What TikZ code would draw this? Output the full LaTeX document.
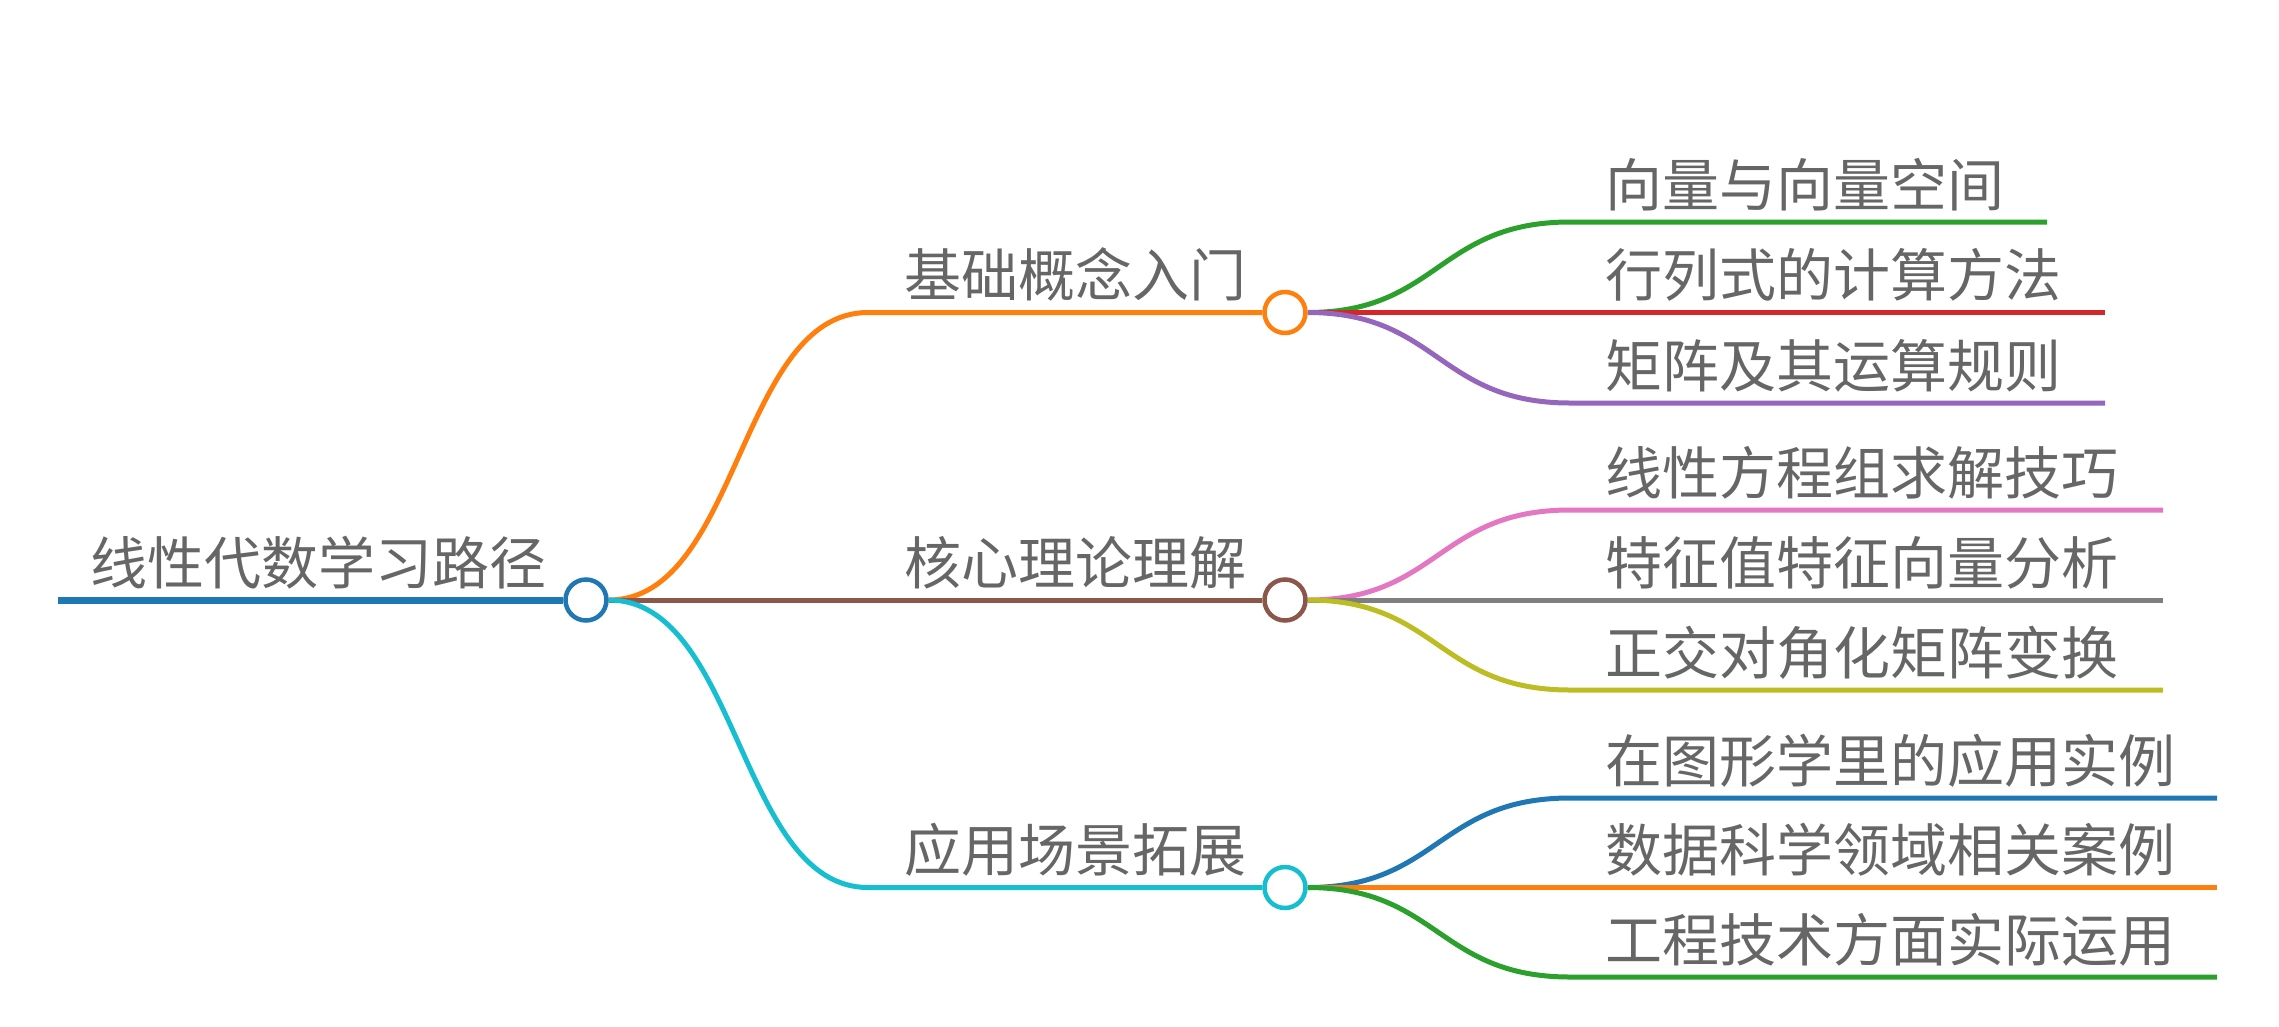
\documentclass[tikz,border=0pt]{standalone}
\usepackage{fontspec}
\newfontfamily\cjk{Noto Sans CJK SC}
\usetikzlibrary{backgrounds}

\definecolor{cblue}{HTML}{1F77B4}
\definecolor{corange}{HTML}{FF7F0E}
\definecolor{cgreen}{HTML}{2CA02C}
\definecolor{cred}{HTML}{D62728}
\definecolor{cpurple}{HTML}{9467BD}
\definecolor{cbrown}{HTML}{8C564B}
\definecolor{cpink}{HTML}{E377C2}
\definecolor{cgray}{HTML}{7F7F7F}
\definecolor{colive}{HTML}{BCBD22}
\definecolor{ccyan}{HTML}{17BECF}
\definecolor{textgray}{HTML}{666666}

\tikzset{
    txt/.style={font=\cjk\fontsize{57}{60}\selectfont, text=textgray, inner sep=0pt, anchor=base west},
    dot/.style={circle, draw=#1, fill=white, line width=4.5pt, minimum size=41pt, inner sep=0pt},
    branch/.style={draw=#1, line width=5pt},
}

\begin{document}
\begin{tikzpicture}[x=1pt, y=-1pt]
    \useasboundingbox (0,0) rectangle (2279,1026);

    \def\xa{58};
    \def\xb{586};
    \def\xc{868};
    \def\xd{1285};
    \def\xe{1570};
    \def\xm{739};
    \def\xn{1438};

    \def\ya{312.5};
    \def\yb{600};
    \def\yc{887.5};

    % circles
    \node[dot=cblue] (root) at (\xb, \yb) {};
    \node[dot=corange] (basic) at (\xd, \ya) {};
    \node[dot=cbrown] (core) at (\xd, \yb) {};
    \node[dot=ccyan] (apply) at (\xd, \yc) {};

    % texts
    \node[txt] (troot) at (90, \yb-16) {线性代数学习路径};
    \node[txt] (tbasic) at (904, \ya-16) {基础概念入门};
    \node[txt] (tcore) at (904, \yb-16) {核心理论理解};
    \node[txt] (tapply) at (904, \yc-16) {应用场景拓展};

    \node[txt] (ta) at (1605, 222-16) {向量与向量空间};
    \node[txt] (tb) at (1605, 312.5-16) {行列式的计算方法};
    \node[txt] (tc) at (1605, 403-16) {矩阵及其运算规则};
    \node[txt] (td) at (1605, 510-16) {线性方程组求解技巧};
    \node[txt] (te) at (1605, 600-16) {特征值特征向量分析};
    \node[txt] (tf) at (1605, 690-16) {正交对角化矩阵变换};
    \node[txt] (tg) at (1605, 798-16) {在图形学里的应用实例};
    \node[txt] (th) at (1605, 887.5-16) {数据科学领域相关案例};
    \node[txt] (ti) at (1605, 977-16) {工程技术方面实际运用};

    % line ends
    \coordinate (rs) at (\xa, \yb);
    \coordinate (bs) at (\xc, \ya);
    \coordinate (cs) at (\xc, \yb);
    \coordinate (as) at (\xc, \yc);

    \coordinate (as1) at (\xe, 222);   \coordinate (ae1) at (2047, 222);
    \coordinate (as2) at (\xe, 312.5); \coordinate (ae2) at (2105, 312.5);
    \coordinate (as3) at (\xe, 403);   \coordinate (ae3) at (2105, 403);
    \coordinate (as4) at (\xe, 510);   \coordinate (ae4) at (2163, 510);
    \coordinate (as5) at (\xe, 600);   \coordinate (ae5) at (2163, 600);
    \coordinate (as6) at (\xe, 690);   \coordinate (ae6) at (2163, 690);
    \coordinate (as7) at (\xe, 798);   \coordinate (ae7) at (2217, 798);
    \coordinate (as8) at (\xe, 887.5); \coordinate (ae8) at (2217, 887.5);
    \coordinate (as9) at (\xe, 977);   \coordinate (ae9) at (2217, 977);

    \begin{scope}[on background layer]
        \draw[branch=cblue, line width=7pt] (rs) -- (root);

        \draw[branch=corange] (root.east) .. controls (\xm, \yb) and (\xm, \ya) .. (bs) -- (basic);
        \draw[branch=cbrown] (root.east) -- (cs) -- (core);
        \draw[branch=ccyan] (root.east) .. controls (\xm, \yb) and (\xm, \yc) .. (as) -- (apply);

        \draw[branch=cgreen] (basic.east) .. controls (\xn, \ya) and (\xn, 222) .. (as1) -- (ae1);
        \draw[branch=cred] (basic.east) -- (as2) -- (ae2);
        \draw[branch=cpurple] (basic.east) .. controls (\xn, \ya) and (\xn, 403) .. (as3) -- (ae3);

        \draw[branch=cpink] (core.east) .. controls (\xn, \yb) and (\xn, 510) .. (as4) -- (ae4);
        \draw[branch=cgray] (core.east) -- (as5) -- (ae5);
        \draw[branch=colive] (core.east) .. controls (\xn, \yb) and (\xn, 690) .. (as6) -- (ae6);

        \draw[branch=cblue] (apply.east) .. controls (\xn, \yc) and (\xn, 798) .. (as7) -- (ae7);
        \draw[branch=corange] (apply.east) -- (as8) -- (ae8);
        \draw[branch=cgreen] (apply.east) .. controls (\xn, \yc) and (\xn, 977) .. (as9) -- (ae9);
    \end{scope}

\end{tikzpicture}
\end{document}
